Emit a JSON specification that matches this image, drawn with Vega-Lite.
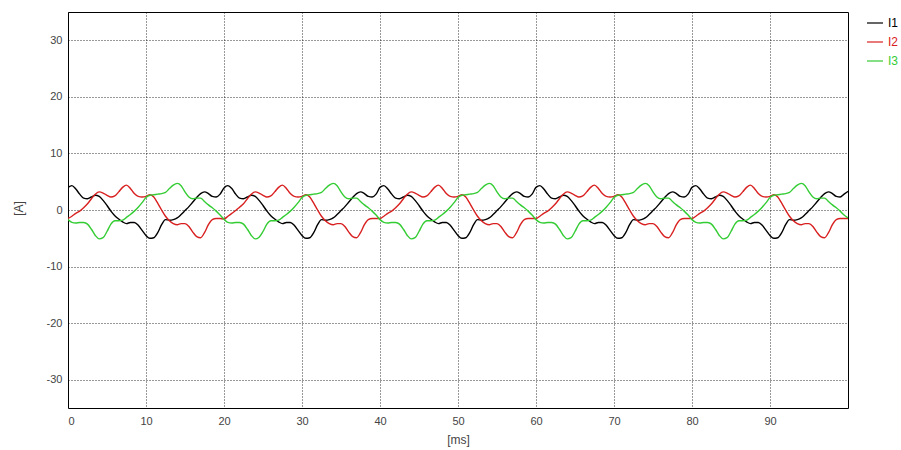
{
 "$schema": "https://vega.github.io/schema/vega-lite/v6.json",
 "width": 780, "height": 396,
 "autosize": "none",
 "padding": {"left": 68, "top": 12, "right": 53, "bottom": 42},
 "background": "white",
 "config": {"view": {"stroke": "#000", "strokeWidth": 1}, "font": "Liberation Sans"},
 "data": {"values": [
{"t":0,"I1":4.0,"I2":-1.5,"I3":-1.7},{"t":0.5,"I1":4.3,"I2":-1.1,"I3":-2.2},{"t":1,"I1":3.7,"I2":-0.6,"I3":-2.3},{"t":1.5,"I1":2.8,"I2":-0.2,"I3":-2.2},{"t":2,"I1":2.1,"I2":0.4,"I3":-2.2},{"t":2.5,"I1":2.0,"I2":1.1,"I3":-2.5},{"t":3,"I1":2.3,"I2":2.0,"I3":-3.4},{"t":3.5,"I1":2.6,"I2":2.8,"I3":-4.5},{"t":4,"I1":2.4,"I2":3.2,"I3":-5.1},{"t":4.5,"I1":1.7,"I2":3.0,"I3":-4.9},
{"t":5,"I1":0.8,"I2":2.6,"I3":-3.8},{"t":5.5,"I1":-0.2,"I2":2.3,"I3":-2.5},{"t":6,"I1":-1.0,"I2":2.5,"I3":-1.9},{"t":6.5,"I1":-1.6,"I2":3.2,"I3":-1.9},{"t":7,"I1":-2.1,"I2":4.0,"I3":-1.8},{"t":7.5,"I1":-2.4,"I2":4.4,"I3":-1.3},{"t":8,"I1":-2.2,"I2":3.8,"I3":-0.8},{"t":8.5,"I1":-2.2,"I2":2.9,"I3":-0.2},{"t":9,"I1":-2.7,"I2":2.4,"I3":0.5},{"t":9.5,"I1":-3.6,"I2":2.3,"I3":1.3},
{"t":10,"I1":-4.5,"I2":2.4,"I3":2.2},{"t":10.5,"I1":-5.0,"I2":2.7,"I3":2.6},{"t":11,"I1":-4.9,"I2":2.3,"I3":2.7},{"t":11.5,"I1":-4.0,"I2":1.2,"I3":2.8},{"t":12,"I1":-2.6,"I2":0.0,"I3":2.9},{"t":12.5,"I1":-1.7,"I2":-1.1,"I3":3.1},{"t":13,"I1":-1.8,"I2":-1.9,"I3":3.8},{"t":13.5,"I1":-1.7,"I2":-2.4,"I3":4.4},{"t":14,"I1":-1.4,"I2":-2.6,"I3":4.7},{"t":14.5,"I1":-0.8,"I2":-2.4,"I3":4.3},
{"t":15,"I1":-0.1,"I2":-2.4,"I3":3.2},{"t":15.5,"I1":0.6,"I2":-2.9,"I3":2.3},{"t":16,"I1":1.4,"I2":-3.9,"I3":2.0},{"t":16.5,"I1":2.2,"I2":-4.7,"I3":2.1},{"t":17,"I1":2.9,"I2":-4.9,"I3":2.1},{"t":17.5,"I1":3.2,"I2":-4.0,"I3":1.5},{"t":18,"I1":2.9,"I2":-2.6,"I3":0.9},{"t":18.5,"I1":2.4,"I2":-1.7,"I3":0.4},{"t":19,"I1":2.3,"I2":-1.5,"I3":-0.2},{"t":19.5,"I1":2.8,"I2":-1.5,"I3":-0.9},
{"t":20,"I1":3.9,"I2":-1.6,"I3":-1.6},{"t":20.5,"I1":4.3,"I2":-1.1,"I3":-2.2},{"t":21,"I1":3.8,"I2":-0.6,"I3":-2.3},{"t":21.5,"I1":2.8,"I2":-0.1,"I3":-2.2},{"t":22,"I1":2.1,"I2":0.5,"I3":-2.2},{"t":22.5,"I1":2.0,"I2":1.1,"I3":-2.5},{"t":23,"I1":2.3,"I2":2.0,"I3":-3.4},{"t":23.5,"I1":2.6,"I2":2.8,"I3":-4.5},{"t":24,"I1":2.4,"I2":3.2,"I3":-5.1},{"t":24.5,"I1":1.7,"I2":3.0,"I3":-4.8},
{"t":25,"I1":0.8,"I2":2.6,"I3":-3.8},{"t":25.5,"I1":-0.2,"I2":2.3,"I3":-2.5},{"t":26,"I1":-1.0,"I2":2.5,"I3":-1.9},{"t":26.5,"I1":-1.6,"I2":3.2,"I3":-1.9},{"t":27,"I1":-2.1,"I2":4.0,"I3":-1.8},{"t":27.5,"I1":-2.4,"I2":4.4,"I3":-1.3},{"t":28,"I1":-2.2,"I2":3.8,"I3":-0.8},{"t":28.5,"I1":-2.2,"I2":2.9,"I3":-0.2},{"t":29,"I1":-2.7,"I2":2.4,"I3":0.5},{"t":29.5,"I1":-3.6,"I2":2.3,"I3":1.3},
{"t":30,"I1":-4.5,"I2":2.4,"I3":2.2},{"t":30.5,"I1":-5.0,"I2":2.7,"I3":2.6},{"t":31,"I1":-4.9,"I2":2.3,"I3":2.7},{"t":31.5,"I1":-4.0,"I2":1.2,"I3":2.8},{"t":32,"I1":-2.6,"I2":0.0,"I3":2.9},{"t":32.5,"I1":-1.7,"I2":-1.1,"I3":3.1},{"t":33,"I1":-1.8,"I2":-1.9,"I3":3.8},{"t":33.5,"I1":-1.7,"I2":-2.4,"I3":4.4},{"t":34,"I1":-1.4,"I2":-2.6,"I3":4.7},{"t":34.5,"I1":-0.8,"I2":-2.4,"I3":4.3},
{"t":35,"I1":-0.1,"I2":-2.4,"I3":3.2},{"t":35.5,"I1":0.6,"I2":-2.9,"I3":2.3},{"t":36,"I1":1.4,"I2":-3.9,"I3":2.0},{"t":36.5,"I1":2.2,"I2":-4.7,"I3":2.1},{"t":37,"I1":2.9,"I2":-4.9,"I3":2.1},{"t":37.5,"I1":3.2,"I2":-4.0,"I3":1.5},{"t":38,"I1":2.9,"I2":-2.6,"I3":0.9},{"t":38.5,"I1":2.4,"I2":-1.7,"I3":0.4},{"t":39,"I1":2.3,"I2":-1.5,"I3":-0.2},{"t":39.5,"I1":2.8,"I2":-1.5,"I3":-0.9},
{"t":40,"I1":4.0,"I2":-1.5,"I3":-1.7},{"t":40.5,"I1":4.3,"I2":-1.1,"I3":-2.2},{"t":41,"I1":3.7,"I2":-0.6,"I3":-2.3},{"t":41.5,"I1":2.8,"I2":-0.2,"I3":-2.2},{"t":42,"I1":2.1,"I2":0.4,"I3":-2.2},{"t":42.5,"I1":2.0,"I2":1.1,"I3":-2.5},{"t":43,"I1":2.3,"I2":2.0,"I3":-3.4},{"t":43.5,"I1":2.6,"I2":2.8,"I3":-4.5},{"t":44,"I1":2.4,"I2":3.2,"I3":-5.1},{"t":44.5,"I1":1.7,"I2":3.0,"I3":-4.9},
{"t":45,"I1":0.8,"I2":2.6,"I3":-3.8},{"t":45.5,"I1":-0.2,"I2":2.3,"I3":-2.5},{"t":46,"I1":-1.0,"I2":2.5,"I3":-1.9},{"t":46.5,"I1":-1.6,"I2":3.2,"I3":-1.9},{"t":47,"I1":-2.1,"I2":4.0,"I3":-1.8},{"t":47.5,"I1":-2.4,"I2":4.4,"I3":-1.3},{"t":48,"I1":-2.2,"I2":3.8,"I3":-0.8},{"t":48.5,"I1":-2.2,"I2":2.9,"I3":-0.2},{"t":49,"I1":-2.7,"I2":2.4,"I3":0.5},{"t":49.5,"I1":-3.6,"I2":2.3,"I3":1.3},
{"t":50,"I1":-4.5,"I2":2.4,"I3":2.2},{"t":50.5,"I1":-5.0,"I2":2.7,"I3":2.6},{"t":51,"I1":-4.9,"I2":2.3,"I3":2.7},{"t":51.5,"I1":-4.0,"I2":1.2,"I3":2.8},{"t":52,"I1":-2.6,"I2":0.0,"I3":2.9},{"t":52.5,"I1":-1.7,"I2":-1.1,"I3":3.1},{"t":53,"I1":-1.8,"I2":-1.9,"I3":3.8},{"t":53.5,"I1":-1.7,"I2":-2.4,"I3":4.4},{"t":54,"I1":-1.4,"I2":-2.6,"I3":4.7},{"t":54.5,"I1":-0.8,"I2":-2.4,"I3":4.3},
{"t":55,"I1":-0.1,"I2":-2.4,"I3":3.2},{"t":55.5,"I1":0.6,"I2":-2.9,"I3":2.3},{"t":56,"I1":1.4,"I2":-3.9,"I3":2.0},{"t":56.5,"I1":2.2,"I2":-4.7,"I3":2.1},{"t":57,"I1":2.9,"I2":-4.9,"I3":2.1},{"t":57.5,"I1":3.2,"I2":-4.0,"I3":1.5},{"t":58,"I1":2.9,"I2":-2.6,"I3":0.9},{"t":58.5,"I1":2.4,"I2":-1.7,"I3":0.4},{"t":59,"I1":2.3,"I2":-1.5,"I3":-0.2},{"t":59.5,"I1":2.8,"I2":-1.5,"I3":-0.9},
{"t":60,"I1":4.0,"I2":-1.5,"I3":-1.7},{"t":60.5,"I1":4.3,"I2":-1.1,"I3":-2.2},{"t":61,"I1":3.7,"I2":-0.6,"I3":-2.3},{"t":61.5,"I1":2.8,"I2":-0.2,"I3":-2.2},{"t":62,"I1":2.1,"I2":0.4,"I3":-2.2},{"t":62.5,"I1":2.0,"I2":1.1,"I3":-2.5},{"t":63,"I1":2.3,"I2":2.0,"I3":-3.4},{"t":63.5,"I1":2.6,"I2":2.8,"I3":-4.5},{"t":64,"I1":2.4,"I2":3.2,"I3":-5.1},{"t":64.5,"I1":1.7,"I2":3.0,"I3":-4.9},
{"t":65,"I1":0.8,"I2":2.6,"I3":-3.8},{"t":65.5,"I1":-0.2,"I2":2.3,"I3":-2.5},{"t":66,"I1":-1.0,"I2":2.5,"I3":-1.9},{"t":66.5,"I1":-1.6,"I2":3.2,"I3":-1.9},{"t":67,"I1":-2.1,"I2":4.0,"I3":-1.8},{"t":67.5,"I1":-2.4,"I2":4.4,"I3":-1.3},{"t":68,"I1":-2.2,"I2":3.8,"I3":-0.8},{"t":68.5,"I1":-2.2,"I2":2.9,"I3":-0.2},{"t":69,"I1":-2.7,"I2":2.4,"I3":0.5},{"t":69.5,"I1":-3.6,"I2":2.3,"I3":1.3},
{"t":70,"I1":-4.5,"I2":2.4,"I3":2.2},{"t":70.5,"I1":-5.0,"I2":2.7,"I3":2.6},{"t":71,"I1":-4.9,"I2":2.3,"I3":2.7},{"t":71.5,"I1":-4.0,"I2":1.2,"I3":2.8},{"t":72,"I1":-2.6,"I2":0.0,"I3":2.9},{"t":72.5,"I1":-1.7,"I2":-1.1,"I3":3.1},{"t":73,"I1":-1.8,"I2":-1.9,"I3":3.8},{"t":73.5,"I1":-1.7,"I2":-2.4,"I3":4.4},{"t":74,"I1":-1.4,"I2":-2.6,"I3":4.7},{"t":74.5,"I1":-0.8,"I2":-2.4,"I3":4.3},
{"t":75,"I1":-0.1,"I2":-2.4,"I3":3.2},{"t":75.5,"I1":0.6,"I2":-2.9,"I3":2.3},{"t":76,"I1":1.4,"I2":-3.9,"I3":2.0},{"t":76.5,"I1":2.2,"I2":-4.7,"I3":2.1},{"t":77,"I1":2.9,"I2":-4.9,"I3":2.1},{"t":77.5,"I1":3.2,"I2":-4.0,"I3":1.5},{"t":78,"I1":2.9,"I2":-2.6,"I3":0.9},{"t":78.5,"I1":2.4,"I2":-1.7,"I3":0.4},{"t":79,"I1":2.3,"I2":-1.5,"I3":-0.2},{"t":79.5,"I1":2.8,"I2":-1.5,"I3":-0.9},
{"t":80,"I1":4.0,"I2":-1.5,"I3":-1.7},{"t":80.5,"I1":4.3,"I2":-1.1,"I3":-2.2},{"t":81,"I1":3.7,"I2":-0.6,"I3":-2.3},{"t":81.5,"I1":2.8,"I2":-0.2,"I3":-2.2},{"t":82,"I1":2.1,"I2":0.4,"I3":-2.2},{"t":82.5,"I1":2.0,"I2":1.1,"I3":-2.5},{"t":83,"I1":2.3,"I2":2.0,"I3":-3.4},{"t":83.5,"I1":2.6,"I2":2.8,"I3":-4.5},{"t":84,"I1":2.4,"I2":3.2,"I3":-5.1},{"t":84.5,"I1":1.7,"I2":3.0,"I3":-4.9},
{"t":85,"I1":0.8,"I2":2.6,"I3":-3.8},{"t":85.5,"I1":-0.2,"I2":2.3,"I3":-2.5},{"t":86,"I1":-1.0,"I2":2.5,"I3":-1.9},{"t":86.5,"I1":-1.6,"I2":3.2,"I3":-1.9},{"t":87,"I1":-2.1,"I2":4.0,"I3":-1.8},{"t":87.5,"I1":-2.4,"I2":4.4,"I3":-1.3},{"t":88,"I1":-2.2,"I2":3.8,"I3":-0.8},{"t":88.5,"I1":-2.2,"I2":2.9,"I3":-0.2},{"t":89,"I1":-2.7,"I2":2.4,"I3":0.5},{"t":89.5,"I1":-3.6,"I2":2.3,"I3":1.3},
{"t":90,"I1":-4.5,"I2":2.4,"I3":2.2},{"t":90.5,"I1":-5.0,"I2":2.7,"I3":2.6},{"t":91,"I1":-4.9,"I2":2.3,"I3":2.7},{"t":91.5,"I1":-4.0,"I2":1.2,"I3":2.8},{"t":92,"I1":-2.6,"I2":0.0,"I3":2.9},{"t":92.5,"I1":-1.7,"I2":-1.1,"I3":3.1},{"t":93,"I1":-1.8,"I2":-1.9,"I3":3.8},{"t":93.5,"I1":-1.7,"I2":-2.4,"I3":4.4},{"t":94,"I1":-1.4,"I2":-2.6,"I3":4.7},{"t":94.5,"I1":-0.8,"I2":-2.4,"I3":4.3},
{"t":95,"I1":-0.1,"I2":-2.4,"I3":3.2},{"t":95.5,"I1":0.6,"I2":-2.9,"I3":2.3},{"t":96,"I1":1.4,"I2":-3.9,"I3":2.0},{"t":96.5,"I1":2.2,"I2":-4.7,"I3":2.1},{"t":97,"I1":2.9,"I2":-4.9,"I3":2.1},{"t":97.5,"I1":3.2,"I2":-4.0,"I3":1.5},{"t":98,"I1":2.9,"I2":-2.6,"I3":0.9},{"t":98.5,"I1":2.4,"I2":-1.7,"I3":0.4},{"t":99,"I1":2.3,"I2":-1.5,"I3":-0.2},{"t":99.5,"I1":2.8,"I2":-1.5,"I3":-0.9},
{"t":100,"I1":3.3,"I2":-1.5,"I3":-1.4}
 ]},
 "transform": [{"fold": ["I1", "I2", "I3"], "as": ["series", "value"]}],
 "mark": {"type": "line", "strokeWidth": 1.4, "clip": true, "interpolate": "monotone"},
 "encoding": {
  "x": {"field": "t", "type": "quantitative",
   "scale": {"domain": [0, 100], "nice": false, "zero": false},
   "axis": {"values": [0,10,20,30,40,50,60,70,80,90], "title": "[ms]", "grid": true,
    "gridColor": "#000", "gridDash": [1, 2], "gridOpacity": 0.8, "ticks": false, "domain": false,
    "labelFontSize": 11, "labelColor": "#444", "labelPadding": 7,
    "titleFontSize": 12, "titleFontWeight": "normal", "titleColor": "#444",
    "titleY": 31, "titleBaseline": "middle"}},
  "y": {"field": "value", "type": "quantitative",
   "scale": {"domain": [-35, 35], "nice": false, "zero": false},
   "axis": {"values": [-30,-20,-10,0,10,20,30], "title": "[A]", "grid": true,
    "labelExpr": "datum.value < 0 ? '-' + abs(datum.value) : '' + datum.value",
    "gridColor": "#000", "gridDash": [1, 2], "gridOpacity": 0.8, "ticks": false, "domain": false,
    "labelFontSize": 11, "labelColor": "#444", "labelPadding": 6,
    "titleFontSize": 12, "titleFontWeight": "normal", "titleColor": "#444",
    "titleX": -50, "titleY": 196, "titleAngle": -90, "titleAlign": "center", "titleBaseline": "middle"}},
  "color": {"field": "series", "type": "nominal",
   "scale": {"domain": ["I1", "I2", "I3"], "range": ["#000000", "#d92020", "#33cc33"]},
   "legend": {"title": null, "orient": "none", "legendX": 798, "legendY": 2,
    "symbolType": "stroke", "symbolSize": 256, "symbolStrokeWidth": 1.2,
    "labelFontSize": 12, "rowPadding": 4, "padding": 0, "labelOffset": 4,
    "encode": {"labels": {"update": {"fill": {"signal": "scale('color', datum.value)"}}}}}}
 }
}
